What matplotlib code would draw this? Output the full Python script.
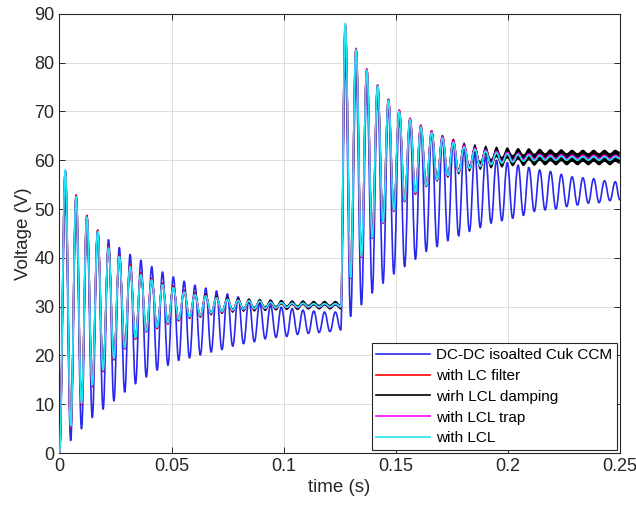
import numpy as np
import matplotlib
matplotlib.use("Agg")
import matplotlib.pyplot as plt
from matplotlib.path import Path
from matplotlib.patches import PathPatch

plt.rcParams['font.family'] = ['Liberation Sans', 'DejaVu Sans']

# ---- timing of the oscillation extrema -------------------------------------
t_first_peak_1 = 0.0026     # first peak after start-up (s)
t_first_peak_2 = 0.1275     # first peak after the load step (s)
period = 0.00482            # ringing period (s)
t_end = 0.25

# ---- DC-DC isolated Cuk CCM (no filter) ------------------------------------
cuk_peaks_1 = [52.4, 50.0, 47.0, 45.4, 43.7, 42.1, 40.7, 39.5, 38.2, 37.1, 36.1, 35.2, 34.4,
               33.8, 33.2, 32.6, 32.0, 31.4, 30.8, 30.3, 29.9, 29.6, 29.3, 29.1, 28.9, 28.9]
cuk_troughs_1 = [2.6, 5.0, 7.3, 9.0, 10.7, 12.5, 14.2, 15.6, 17.0, 18.0, 19.0, 19.5, 20.1,
                 20.7, 21.2, 21.9, 22.4, 22.8, 23.4, 23.7, 23.9, 24.3, 24.5, 24.7, 24.9, 25.2]
cuk_peaks_2 = [80.8, 77.8, 75.4, 73.4, 71.3, 69.3, 67.9, 66.5, 65.8, 64.8, 63.8, 62.4, 61.4,
               60.7, 60.0, 59.5, 59.0, 58.5, 58.0, 57.7, 57.1, 56.6, 56.4, 56.2, 55.8, 55.6]
cuk_troughs_2 = [28.0, 30.4, 32.8, 34.8, 36.7, 38.2, 39.7, 41.3, 42.3, 43.5, 44.5, 45.4, 46.2,
                 47.1, 47.6, 48.1, 48.7, 49.5, 49.8, 50.0, 50.5, 50.8, 51.2, 51.3, 51.7]
cuk_final = 51.9

# ---- with LC filter ---------------------------------------------------------
lc_peaks_1 = [57.6, 52.9, 48.7, 45.7, 42.4, 40.6, 38.6, 37.0, 35.8, 34.8, 34.2, 33.3, 32.8,
              32.5, 32.1, 31.8, 31.6, 31.4, 31.3, 31.2, 31.1, 31.0, 31.0, 30.9, 30.9, 30.9]
lc_troughs_1 = [5.3, 9.9, 13.6, 16.7, 19.1, 21.3, 23.3, 24.8, 25.5, 26.4, 27.1, 27.6, 27.9,
                28.4, 28.7, 29.0, 29.2, 29.3, 29.4, 29.5, 29.6, 29.6, 29.7, 29.7, 29.7, 29.7]
lc_peaks_2 = [87.5, 82.9, 78.7, 75.4, 72.5, 70.3, 68.6, 67.2, 66.0, 65.0, 64.2, 63.2, 62.7,
              62.3, 62.0, 61.7, 61.5, 61.3, 61.2, 61.1, 61.0, 61.0, 61.0, 61.0, 61.0, 61.0]
lc_troughs_2 = [35.8, 40.1, 44.0, 47.1, 49.5, 51.5, 53.0, 54.6, 55.8, 56.6, 57.3, 58.0, 58.4,
                58.8, 59.1, 59.4, 59.6, 59.8, 59.9, 60.0, 60.1, 60.1, 60.1, 60.1, 60.1]
lc_final = 60.4

# ---- with LCL damping (carries a switching-ripple band) ---------------------
damp_peaks_1 = [57.8, 52.6, 48.4, 45.5, 42.1, 40.4, 38.3, 36.7, 35.6, 34.6, 34.0, 33.1, 32.6,
                32.3, 31.9, 31.6, 31.4, 31.2, 31.1, 31.0, 30.9, 30.8, 30.8, 30.7, 30.7, 30.7]
damp_troughs_1 = [5.5, 10.1, 13.8, 16.9, 19.3, 21.5, 23.5, 25.0, 25.7, 26.6, 27.3, 27.8, 28.1,
                  28.6, 28.9, 29.2, 29.4, 29.5, 29.6, 29.7, 29.8, 29.8, 29.9, 29.9, 29.9, 29.9]
damp_peaks_2 = [87.7, 82.7, 78.5, 75.3, 72.4, 70.1, 68.4, 66.9, 65.8, 64.7, 63.8, 62.9, 62.4,
                62.0, 61.7, 61.5, 61.3, 61.2, 61.1, 61.0, 61.0, 60.9, 60.9, 60.9, 60.9, 60.9]
damp_troughs_2 = [35.9, 40.2, 44.1, 47.2, 49.7, 51.7, 53.3, 54.8, 56.0, 56.9, 57.7, 58.4, 58.9,
                  59.3, 59.6, 59.9, 60.0, 60.1, 60.2, 60.2, 60.2, 60.2, 60.2, 60.2, 60.2]
damp_final = 60.5
# half-width of the ripple band (V), one value per ringing cycle
damp_ripple_1 = [0.05, 0.05, 0.05, 0.05, 0.1, 0.1, 0.15, 0.2, 0.2, 0.25, 0.3, 0.3, 0.35,
                 0.4, 0.4, 0.45, 0.45, 0.5, 0.5, 0.5, 0.5, 0.5, 0.5, 0.5, 0.5, 0.5]
damp_ripple_2 = [0.05, 0.05, 0.05, 0.1, 0.1, 0.15, 0.2, 0.3, 0.4, 0.5, 0.6, 0.75, 0.9,
                 1.0, 1.1, 1.15, 1.2, 1.25, 1.25, 1.25, 1.25, 1.25, 1.25, 1.25, 1.25, 1.25]

# ---- with LCL trap ----------------------------------------------------------
trap_peaks_1 = [57.9, 52.6, 48.4, 45.4, 42.1, 40.3, 38.3, 36.6, 35.5, 34.5, 33.9, 33.0, 32.5,
                32.2, 31.8, 31.5, 31.3, 31.2, 31.1, 30.9, 30.8, 30.7, 30.7, 30.6, 30.6, 30.6]
trap_troughs_1 = [5.5, 10.1, 13.8, 16.9, 19.3, 21.5, 23.5, 24.9, 25.7, 26.6, 27.3, 27.8, 28.1,
                  28.6, 28.9, 29.2, 29.4, 29.5, 29.6, 29.7, 29.8, 29.8, 29.9, 29.9, 29.9, 29.9]
trap_peaks_2 = [87.8, 82.8, 78.6, 75.3, 72.4, 70.2, 68.5, 67.0, 65.9, 64.8, 63.9, 63.0, 62.5,
                62.1, 61.8, 61.6, 61.4, 61.3, 61.2, 61.1, 61.1, 61.0, 61.0, 61.0, 61.0, 61.0]
trap_troughs_2 = [35.9, 40.2, 44.1, 47.2, 49.7, 51.7, 53.3, 54.8, 56.0, 56.9, 57.7, 58.4, 58.9,
                  59.3, 59.6, 59.9, 60.1, 60.2, 60.3, 60.3, 60.3, 60.3, 60.3, 60.3, 60.3]
trap_final = 60.6

# ---- with LCL -----------------------------------------------------------------
lcl_peaks_1 = [58.0, 52.5, 48.3, 45.4, 42.0, 40.3, 38.2, 36.6, 35.5, 34.5, 33.9, 33.0, 32.5,
               32.2, 31.8, 31.5, 31.3, 31.2, 31.1, 30.9, 30.8, 30.7, 30.7, 30.6, 30.6, 30.6]
lcl_troughs_1 = [5.6, 10.2, 13.9, 17.0, 19.4, 21.6, 23.6, 25.0, 25.8, 26.7, 27.4, 27.9, 28.2,
                 28.7, 29.0, 29.3, 29.5, 29.6, 29.7, 29.8, 29.9, 29.9, 30.0, 30.0, 30.0, 30.0]
lcl_peaks_2 = [88.0, 82.6, 78.4, 75.2, 72.3, 70.0, 68.3, 66.8, 65.6, 64.5, 63.6, 62.7, 62.2,
               61.8, 61.5, 61.3, 61.1, 61.0, 60.9, 60.8, 60.8, 60.7, 60.7, 60.7, 60.7, 60.7]
lcl_troughs_2 = [36.0, 40.3, 44.2, 47.3, 49.8, 51.8, 53.4, 54.8, 56.0, 56.9, 57.6, 58.3, 58.7,
                 59.1, 59.4, 59.6, 59.8, 59.9, 60.0, 60.0, 60.0, 60.0, 60.0, 60.0, 60.0]
lcl_final = 60.3

labels = ["DC-DC isoalted Cuk CCM", "with LC filter", "wirh LCL damping",
          "with LCL trap", "with LCL"]
colors = ["#2828f0", "#ff0000", "#000000", "#ff00ff", "#22e6f0"]

x_ticks = [0, 0.05, 0.1, 0.15, 0.2, 0.25]
x_tick_labels = ["0", "0.05", "0.1", "0.15", "0.2", "0.25"]
y_ticks = list(range(0, 91, 10))


def trace(peaks_1, troughs_1, peaks_2, troughs_2, final):
    """Join the extrema of both intervals into one (time, voltage) sequence."""
    t = [0.0]
    v = [0.0]
    for k, (p, q) in enumerate(zip(peaks_1, troughs_1)):
        t += [t_first_peak_1 + k * period, t_first_peak_1 + (k + 0.5) * period]
        v += [p, q]
    for k, p in enumerate(peaks_2):
        t.append(t_first_peak_2 + k * period)
        v.append(p)
        if k < len(troughs_2):
            t.append(t_first_peak_2 + (k + 0.5) * period)
            v.append(troughs_2[k])
    t.append(t_end)
    v.append(final)
    return np.array(t), np.array(v)


def ripple_trace(r1, r2):
    """Ripple half-width aligned with the extrema sequence built by trace()."""
    r = [0.0]
    for x in r1:
        r += [x, x]
    for k, x in enumerate(r2):
        r.append(x)
        if k < len(r2) - 1:
            r.append(x)
    r.append(r2[-1])
    return np.array(r)


def smooth_vertices(t, v):
    """Cubic Bezier segments with flat tangents at every extremum."""
    verts = [(t[0], v[0])]
    for i in range(1, len(t)):
        d = 0.4 * (t[i] - t[i - 1])
        verts += [(t[i - 1] + d, v[i - 1]), (t[i] - d, v[i]), (t[i], v[i])]
    return verts


def smooth_path(t, v):
    verts = smooth_vertices(t, v)
    codes = [Path.MOVETO] + [Path.CURVE4] * (len(verts) - 1)
    return Path(verts, codes)


def band_path(t, lo, hi):
    upper = smooth_vertices(t, hi)
    lower = smooth_vertices(t, lo)[::-1]
    verts = upper + lower + [upper[0]]
    codes = ([Path.MOVETO] + [Path.CURVE4] * (len(upper) - 1) + [Path.LINETO]
             + [Path.CURVE4] * (len(lower) - 1) + [Path.CLOSEPOLY])
    return Path(verts, codes)


series = [
    trace(cuk_peaks_1, cuk_troughs_1, cuk_peaks_2, cuk_troughs_2, cuk_final),
    trace(lc_peaks_1, lc_troughs_1, lc_peaks_2, lc_troughs_2, lc_final),
    trace(damp_peaks_1, damp_troughs_1, damp_peaks_2, damp_troughs_2, damp_final),
    trace(trap_peaks_1, trap_troughs_1, trap_peaks_2, trap_troughs_2, trap_final),
    trace(lcl_peaks_1, lcl_troughs_1, lcl_peaks_2, lcl_troughs_2, lcl_final),
]
damp_ripple = ripple_trace(damp_ripple_1, damp_ripple_2)

fig = plt.figure(figsize=(6.36, 5.08), dpi=100)
ax = fig.add_axes([0.0935, 0.108, 0.881, 0.865])

for i, ((t, v), lab, col) in enumerate(zip(series, labels, colors)):
    if i == 2:
        ax.add_patch(PathPatch(band_path(t, v - damp_ripple, v + damp_ripple),
                               facecolor=col, edgecolor='none', zorder=2 + i))
    ax.add_patch(PathPatch(smooth_path(t, v), fill=False, edgecolor=col, lw=1.2,
                           zorder=2 + i, joinstyle='round', capstyle='round'))
    ax.plot([], [], color=col, lw=1.2, label=lab)

ax.set_xlim(0, 0.25)
ax.set_ylim(0, 90)
ax.set_xticks(x_ticks)
ax.set_xticklabels(x_tick_labels)
ax.set_yticks(y_ticks)
ax.grid(True, color="#dcdcdc", lw=0.7)
ax.set_axisbelow(True)
ax.tick_params(direction='in', top=True, right=True, labelsize=13,
               colors="#262626", length=4, width=0.7)
for s in ax.spines.values():
    s.set_color("#262626")
    s.set_linewidth(0.8)

ax.set_xlabel("time (s)", fontsize=13.5, color="#262626", labelpad=3)
ax.set_ylabel("Voltage (V)", fontsize=13.5, color="#262626", labelpad=2)

leg = ax.legend(loc="lower right", fontsize=11, handlelength=3.5, handletextpad=0.4,
                labelspacing=0.45, borderaxespad=0.2, fancybox=False, framealpha=1,
                edgecolor="#262626", borderpad=0.3)
leg.get_frame().set_linewidth(0.8)
leg.set_zorder(20)

fig.savefig("out.png", dpi=100)
